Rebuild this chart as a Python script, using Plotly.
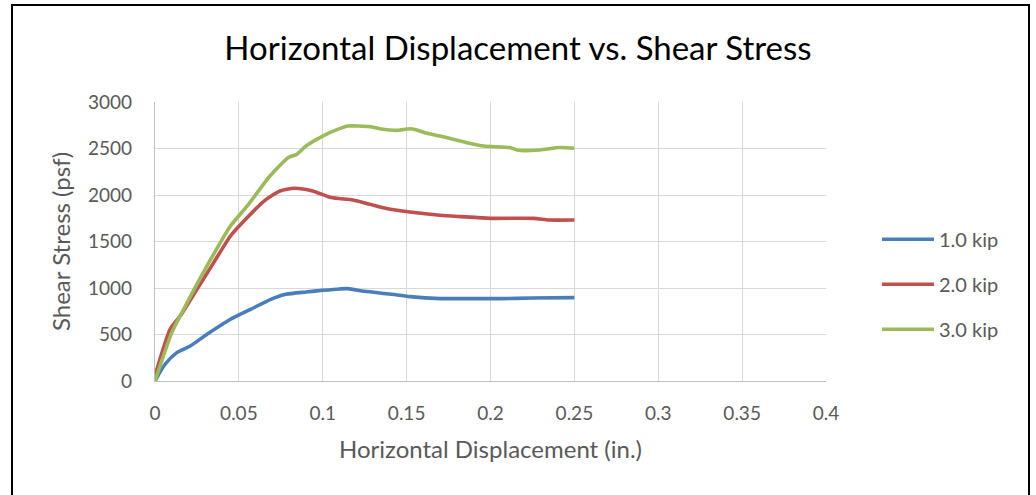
import plotly.graph_objects as go

# values
x_1kip = [0, 0.006, 0.013, 0.021, 0.031, 0.045, 0.057, 0.069, 0.078, 0.090, 0.100,
          0.110, 0.115, 0.125, 0.140, 0.152, 0.170, 0.185, 0.206, 0.225, 0.250]
y_1kip = [0, 180, 305, 376, 502, 664, 771, 878, 932, 957, 975,
          990, 993, 965, 935, 907, 886, 886, 886, 892, 897]

x_2kip = [0, 0.009, 0.015, 0.025, 0.035, 0.045, 0.055, 0.065, 0.0745, 0.083, 0.094,
          0.105, 0.118, 0.128, 0.138, 0.152, 0.170, 0.182, 0.200, 0.2255, 0.235, 0.250]
y_2kip = [54, 556, 699, 986, 1273, 1559, 1757, 1935, 2043, 2072, 2043,
          1972, 1946, 1900, 1854, 1817, 1782, 1768, 1749, 1749, 1731, 1731]

x_3kip = [0, 0.010, 0.015, 0.031, 0.045, 0.055, 0.0685, 0.0795, 0.0845, 0.090, 0.100,
          0.110, 0.115, 0.128, 0.134, 0.144, 0.152, 0.156, 0.162, 0.170, 0.186,
          0.196, 0.2115, 0.2165, 0.2295, 0.241, 0.250]
y_3kip = [0, 520, 699, 1237, 1667, 1882, 2204, 2402, 2437, 2527, 2634,
          2713, 2742, 2735, 2713, 2695, 2713, 2699, 2663, 2634, 2563,
          2527, 2510, 2481, 2484, 2510, 2502]

names = ['1.0 kip', '2.0 kip', '3.0 kip']
colors = ['#4A7EBB', '#C0504D', '#9BBB59']
x_ticks = [0, 0.05, 0.1, 0.15, 0.2, 0.25, 0.3, 0.35, 0.4]
x_ticktext = ['0', '0.05', '0.1', '0.15', '0.2', '0.25', '0.3', '0.35', '0.4']

FONT = 'Lato'
GREY = '#595959'

W, H = 1036, 495
L, T = 155, 102
PW, PH = 671, 279

fig = go.Figure()
for xs, ys, name, c in zip([x_1kip, x_2kip, x_3kip], [y_1kip, y_2kip, y_3kip], names, colors):
    fig.add_trace(go.Scatter(x=xs, y=ys, mode='lines', name=name, legendgroup=name,
                             line=dict(color=c, width=3.6, shape='spline', smoothing=0.6)))

# outer chart border
fig.add_shape(type='rect', xref='paper', yref='paper',
              x0=(12 - L) / PW, x1=(1029 - L) / PW,
              y0=(T + PH - 520) / PH, y1=(T + PH - 5) / PH,
              line=dict(color='black', width=2), layer='below')

fig.update_layout(
    width=W, height=H,
    margin=dict(l=L, r=W - L - PW, t=T, b=H - T - PH, autoexpand=False),
    paper_bgcolor='white', plot_bgcolor='white',
    font=dict(family=FONT, color=GREY),
    title=dict(text='Horizontal Displacement vs. Shear Stress', x=0.5, xanchor='center',
               y=1 - 48 / H, yanchor='middle',
               xref='container', font=dict(size=33, color='black', family=FONT)),
    legend=dict(x=1.076, y=0.347, xanchor='left', yanchor='middle',
                font=dict(size=20, color=GREY), itemwidth=52, tracegroupgap=16,
                traceorder='grouped', bgcolor='rgba(0,0,0,0)'),
    showlegend=True,
)
fig.update_xaxes(range=[0, 0.4], tickvals=x_ticks, ticktext=x_ticktext, automargin=False,
                 showgrid=True, gridcolor='#D9D9D9', gridwidth=1.3,
                 showline=True, linecolor='#BFBFBF', linewidth=1.3,
                 ticks='outside', ticklen=15, tickcolor='rgba(0,0,0,0)',
                 tickfont=dict(size=19, color=GREY), zeroline=False,
                 title=dict(text='Horizontal Displacement (in.)', font=dict(size=24, color=GREY), standoff=18))
fig.update_yaxes(range=[0, 3000], dtick=500, automargin=False,
                 showgrid=True, gridcolor='#D9D9D9', gridwidth=1.3,
                 showline=True, linecolor='#BFBFBF', linewidth=1.3,
                 ticks='outside', ticklen=18, tickcolor='rgba(0,0,0,0)',
                 tickfont=dict(size=19, color=GREY), zeroline=False,
                 title=dict(text='Shear Stress (psf)', font=dict(size=24, color=GREY), standoff=10))

# drop the default page margin so the figure sits at the window's corner
fig.write_html('out.html', config={'displayModeBar': False},
               post_script="document.body.style.margin='0';")
